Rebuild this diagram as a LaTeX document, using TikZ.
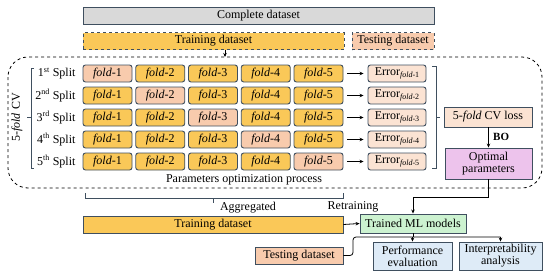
\documentclass[tikz,border=0pt]{standalone}
\usepackage{fontspec}
\setmainfont{Liberation Serif}
\usetikzlibrary{arrows.meta,positioning}
\definecolor{gold}{HTML}{FAC858}
\definecolor{salm}{HTML}{F8CBAD}
\definecolor{lsalm}{HTML}{FBE3D3}
\definecolor{grayf}{HTML}{D9D9D9}
\definecolor{greenf}{HTML}{CCF2D0}
\definecolor{purf}{HTML}{EDC3EC}
\definecolor{bluef}{HTML}{DEEBF7}
\definecolor{bord}{HTML}{3F4F5F}
\newcommand{\errsub}[1]{Error\raisebox{-0.45ex}{\fontsize{8}{8}\selectfont\textit{fold}-#1}}
\newcommand{\fd}[1]{\textit{fold}-#1}
\begin{document}
\begin{tikzpicture}[x=1pt,y=-1pt,
  font=\fontsize{12}{13}\selectfont,
  box/.style={draw=bord,line width=0.9pt,inner sep=0pt,align=center},
  fbox/.style={box,rounded corners=2.5pt,minimum width=49pt,minimum height=17pt},
  tr/.style={fbox,fill=gold},
  te/.style={fbox,fill=salm},
  err/.style={box,rounded corners=2.5pt,fill=lsalm,minimum width=58pt,minimum height=17pt},
  arr/.style={-{Stealth[length=4pt,width=3.5pt]},line width=0.8pt,black},
  ln/.style={line width=0.8pt,black},
  brk/.style={line width=0.8pt,bord}]
\useasboundingbox (0,0) rectangle (550,279);

% top datasets
\node[box,fill=grayf,minimum width=351pt,minimum height=17pt] (complete) at (258.5,16) {Complete dataset};
\node[box,dashed,fill=gold,minimum width=261pt,minimum height=17pt] (trainD) at (213.5,41) {Training dataset};
\node[box,dashed,fill=salm,minimum width=82pt,minimum height=17pt] (testD) at (393,41) {Testing dataset};

% big dashed region
\draw[dashed,line width=0.8pt,black,rounded corners=20pt] (8,57) rectangle (542,188);
\coordinate (cvtop) at (225,57);
\draw[arr] (trainD.south -| cvtop) -- (cvtop);

% rows
\foreach \r/\y/\sup in {1/73.5/st,2/95.5/nd,3/117.5/rd,4/139.5/th,5/161.5/th}{
  \node[anchor=east] (lab\r) at (79,\y) {\r\textsuperscript{\sup} Split};
  \foreach \c/\x in {1/107.5,2/160.25,3/213,4/265.75,5/318.5}{
    \ifnum\c=\r
      \node[te] (f\r\c) at (\x,\y) {\fd{\c}};
    \else
      \node[tr] (f\r\c) at (\x,\y) {\fd{\c}};
    \fi
  }
  \node[err] (e\r) at (397,\y) {\errsub{\r}};
  \draw[arr] (f\r5.east) ++(4,0) -- ([xshift=-4pt]e\r.west);
}

% left bracket
\draw[brk] (34,68) -- (31,68) -- (31,168) -- (34,168);
\draw[brk] (31,117.5) -- (27,117.5);
\node[rotate=90] (cvlab) at (17,117.5) {5-\textit{fold} CV};

% right bracket
\draw[brk] (432,66) -- (436,66) -- (436,168) -- (432,168);
\draw[brk] (436,117.5) -- (440,117.5);

\node[box,fill=lsalm,minimum width=88pt,minimum height=20pt] (cvloss) at (488,117) {5-\textit{fold} CV loss};
\node[box,fill=purf,minimum width=87pt,minimum height=31pt,font=\fontsize{12}{12}\selectfont] (opt) at (488.5,163.5) {Optimal\\parameters};
\draw[arr] (cvloss.south -| opt.north) -- (opt.north) node[pos=0.45,right=1pt,font=\fontsize{11}{11}\selectfont\bfseries] {BO};

\node (ppo) at (244,180) {Parameters optimization process};

% bottom bracket
\draw[brk] (85,193) -- (85,198) -- (343,198) -- (343,193);
\draw[brk] (213.5,198) -- (213.5,203);
\node (agg) at (248,208) {Aggregated};
\node (retr) at (353,207) {Retraining};

\node[box,fill=gold,minimum width=260pt,minimum height=17pt] (trainS) at (213,224.5) {Training dataset};
\node[box,fill=greenf,minimum width=106pt,minimum height=19pt] (model) at (413,223.5) {Trained ML models};
\draw[arr] (trainS.east) -- (model.west);
\draw[arr] (opt.south) -- (488.5,197) -- (413,197) -- (model.north);

\node[box,fill=salm,minimum width=88pt,minimum height=17pt] (testS) at (299,255.5) {Testing dataset};
\node[box,fill=bluef,minimum width=79pt,minimum height=28pt,font=\fontsize{12}{12}\selectfont] (perf) at (412.5,256) {Performance\\evaluation};
\node[box,fill=bluef,minimum width=83pt,minimum height=28pt,font=\fontsize{12}{12}\selectfont] (interp) at (500.5,256) {Interpretability\\analysis};

\coordinate (hj) at (353,237);
\draw[ln,rounded corners=3pt] (testS.east) -- (353,255.5) -- (hj) -- (interp.north |- hj);
\draw[ln] (model.south) -- (model.south |- hj);
\draw[arr] (perf.north |- hj) -- (perf.north);
\draw[arr] (interp.north |- hj) -- (interp.north);
\end{tikzpicture}
\end{document}
